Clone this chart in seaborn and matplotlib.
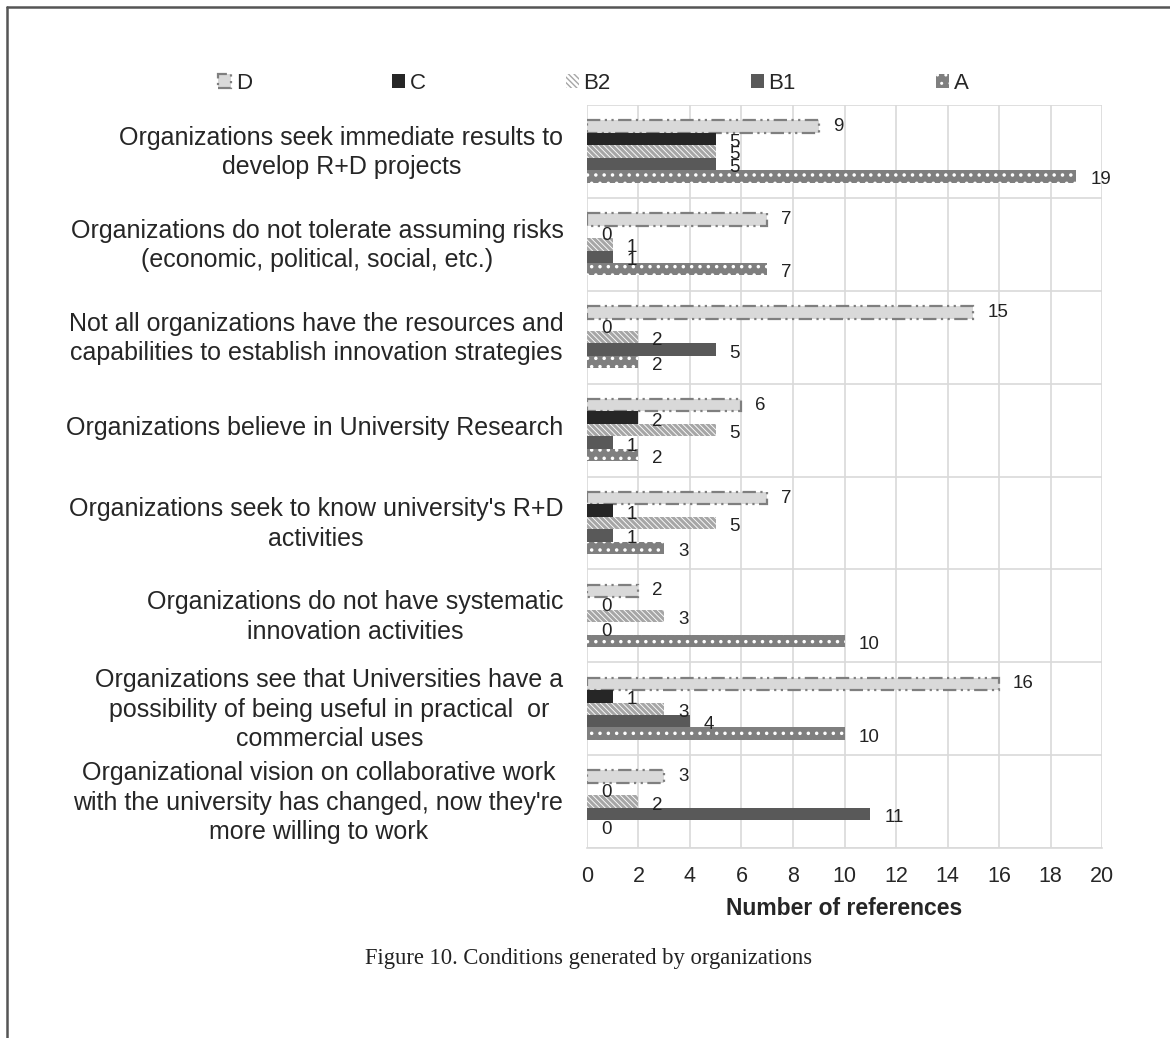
import numpy as np
import pandas as pd
import matplotlib
matplotlib.use('Agg')
import matplotlib.pyplot as plt
import matplotlib.transforms as mtransforms
import seaborn as sns
from matplotlib.lines import Line2D

sns.set_style('white')
plt.rcParams['font.family'] = ['Liberation Sans', 'DejaVu Sans']
plt.rcParams['hatch.linewidth'] = 1.0

BS = chr(92)  # backslash for hatch

# Data
categories = [
    "Organizations seek immediate results to\ndevelop R+D projects",
    "Organizations do not tolerate assuming risks\n(economic, political, social, etc.)",
    "Not all organizations have the resources and\ncapabilities to establish innovation strategies",
    "Organizations believe in University Research",
    "Organizations seek to know university's R+D\nactivities",
    "Organizations do not have systematic\ninnovation activities",
    "Organizations see that Universities have a\npossibility of being useful in practical  or\ncommercial uses",
    "Organizational vision on collaborative work\nwith the university has changed, now they're\nmore willing to work",
]
series = ['D', 'C', 'B2', 'B1', 'A']
d_vals = [9, 7, 15, 6, 7, 2, 16, 3]
c_vals = [5, 0, 0, 2, 1, 0, 1, 0]
b2_vals = [5, 1, 2, 5, 5, 3, 3, 2]
b1_vals = [5, 1, 5, 1, 1, 0, 4, 11]
a_vals = [19, 7, 2, 2, 3, 10, 10, 0]
x_ticks = list(range(0, 21, 2))

rows = []
for s, vals in zip(series, [d_vals, c_vals, b2_vals, b1_vals, a_vals]):
    for cat, v in zip(categories, vals):
        rows.append({'category': cat, 'series': s, 'value': v})
df = pd.DataFrame(rows)

# bar styles per series (Excel-like patterns)
styles = {
    'D':  dict(facecolor='#d9d9d9', edgecolor='#7f7f7f', hatch=None, lw=1.6,
               ls=(0, (6, 2, 1, 2, 1, 2)), hlw=1.0),
    'C':  dict(facecolor='#262626', edgecolor='#262626', hatch=None, lw=0, ls='-', hlw=1.0),
    'B2': dict(facecolor='white', edgecolor='#a6a6a6', hatch=BS * 6, lw=0, ls='-', hlw=2.2),
    'B1': dict(facecolor='#595959', edgecolor='#595959', hatch=None, lw=0, ls='-', hlw=1.0),
    'A':  dict(facecolor='#7f7f7f', edgecolor='white', hatch='..', lw=0, ls='-', hlw=1.3),
}

fig = plt.figure(figsize=(11.7, 10.38), dpi=100)
ax = fig.add_axes([0.5017, 0.183, 0.4402, 0.7158])

sns.barplot(data=df, y='category', x='value', hue='series', hue_order=series,
            orient='h', width=0.67, ax=ax, errorbar=None, legend=False)


def style_patch(p, st):
    p.set_facecolor(st['facecolor'])
    p.set_edgecolor(st['edgecolor'])
    p.set_linewidth(st['lw'])
    p.set_linestyle(st['ls'])
    if st['hatch']:
        p.set_hatch(st['hatch'])
        if hasattr(p, 'set_hatch_linewidth'):
            p.set_hatch_linewidth(st['hlw'])


for s, cont in zip(series, ax.containers):
    st = styles[s]
    for p in cont.patches:
        style_patch(p, st)
        w = p.get_width()
        yc = p.get_y() + p.get_height() / 2
        dy = 0 if s == 'D' else -2.5
        ax.annotate(f'{int(w)}', xy=(w, yc), xytext=(10, dy), textcoords='offset points',
                    ha='left', va='center', fontsize=13.5, color='#222222')

ax.set_xlim(0, 20)
ax.set_ylim(len(categories) - 0.5, -0.5)
ax.set_xticks(x_ticks)
ax.set_xticklabels([str(t) for t in x_ticks], fontsize=15.5)
ax.set_yticks(range(len(categories)))
ax.set_yticklabels(categories, fontsize=18, multialignment='center', linespacing=1.28)
ax.set_yticks(np.arange(-0.5, len(categories), 1), minor=True)
ax.tick_params(axis='both', which='both', length=0)
ax.tick_params(axis='y', pad=17)
ax.tick_params(axis='x', pad=13)
ax.grid(axis='x', which='major', color='#d9d9d9', lw=1.2)
ax.grid(axis='y', which='minor', color='#d9d9d9', lw=1.2)
ax.grid(axis='y', which='major', visible=False)
ax.set_axisbelow(True)
for side in ['top', 'right', 'left']:
    ax.spines[side].set_visible(False)
ax.spines['bottom'].set_color('#d9d9d9')
ax.spines['bottom'].set_linewidth(1.2)

# nudge category labels up a little
shift = mtransforms.ScaledTranslation(0, 3 / 72, fig.dpi_scale_trans)
for lab in ax.get_yticklabels():
    lab.set_transform(lab.get_transform() + shift)

ax.set_ylabel('')
ax.set_xlabel('Number of references', fontsize=16.5, fontweight='bold', labelpad=7)

# legend across the top
handles = [cont.patches[0] for cont in ax.containers]
leg = fig.legend(handles, series, loc='center', bbox_to_anchor=(0.507, 0.92), ncol=5,
                 frameon=False, fontsize=16, handlelength=0.6, handleheight=0.6,
                 handletextpad=0.2, columnspacing=6.3)

fig.text(0.503, 0.0765, 'Figure 10. Conditions generated by organizations',
         ha='center', va='center', fontsize=16.3, family=['Liberation Serif', 'DejaVu Serif'],
         color='#222222')

# page frame (top and left edges)
fig.add_artist(Line2D([0.006, 1.0], [0.9933, 0.9933], color='#555555', lw=1.8))
fig.add_artist(Line2D([0.006, 0.006], [0.0, 0.9933], color='#555555', lw=1.8))

fig.savefig('out.png', dpi=100)
